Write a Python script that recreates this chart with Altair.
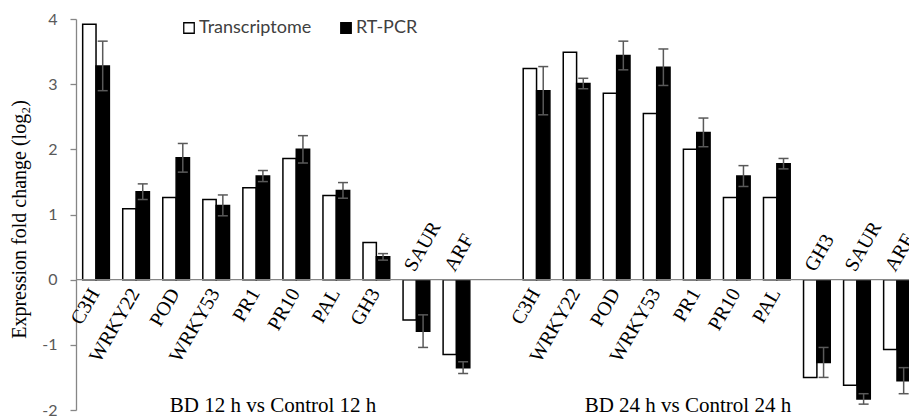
import altair as alt
import pandas as pd

# ---- data ----
genes = ["C3H", "WRKY22", "POD", "WRKY53", "PR1", "PR10", "PAL", "GH3", "SAUR", "ARF"]
groups = ["BD 12 h vs Control 12 h", "BD 24 h vs Control 24 h"]
series = ["Transcriptome", "RT-PCR"]

trans_12h = [3.92, 1.09, 1.26, 1.23, 1.41, 1.86, 1.29, 0.57, -0.62, -1.15]
rtpcr_12h = [3.28, 1.35, 1.87, 1.14, 1.59, 2.00, 1.37, 0.35, -0.79, -1.35]
err_12h = [0.38, 0.12, 0.22, 0.16, 0.085, 0.21, 0.12, 0.05, 0.25, 0.09]

trans_24h = [3.24, 3.49, 2.86, 2.55, 2.00, 1.26, 1.26, -1.50, -1.62, -1.07]
rtpcr_24h = [2.90, 3.01, 3.44, 3.26, 2.26, 1.59, 1.78, -1.27, -1.83, -1.55]
err_24h = [0.37, 0.08, 0.22, 0.28, 0.22, 0.16, 0.08, 0.23, 0.08, 0.20]

y_ticks = [-2, -1, 0, 1, 2, 3, 4]

# ---- tables built from the arrays ----
bar_rows, err_rows, lab_rows = [], [], []
for g, (tr, rt, er) in enumerate([(trans_12h, rtpcr_12h, err_12h),
                                  (trans_24h, rtpcr_24h, err_24h)]):
    for i, gene in enumerate(genes):
        slot = i + 11 * g
        bar_rows.append(dict(gene=gene, series=series[0], value=tr[i],
                             x0=slot + 1 / 6, x1=slot + 0.5))
        bar_rows.append(dict(gene=gene, series=series[1], value=rt[i],
                             x0=slot + 0.5, x1=slot + 5 / 6))
        xc = slot + 2 / 3
        err_rows.append(dict(xc=xc, lo=rt[i] - er[i], hi=rt[i] + er[i],
                             c0=xc - 0.125, c1=xc + 0.125))
        lab_rows.append(dict(gene=gene, xc=slot + 0.5, zero=0,
                             sign=1 if tr[i] >= 0 else -1))

bars_df = pd.DataFrame(bar_rows)
bars_df["base"] = 0
err_df = pd.DataFrame(err_rows)
lab_df = pd.DataFrame(lab_rows)
title_df = pd.DataFrame({"group": groups, "xc": [4.92, 15.28], "y": [-2, -2]})

xscale = alt.Scale(domain=[0, 20.8], nice=False, zero=False)
yscale = alt.Scale(domain=[-2, 4], nice=False, zero=False)

Y_TITLE = "Expression fold change (log₂)"
yaxis = alt.Axis(
    values=y_ticks, grid=False, domainColor="#868686", domainWidth=1.3,
    tickColor="#868686", tickWidth=1.3, tickSize=6, labelPadding=13,
    labelFont="Lato", labelFontSize=16, labelColor="#595959",
    labelExpr="'' + datum.value",
    title=Y_TITLE, titleFont="Liberation Serif",
    titleFontSize=20, titleFontWeight="normal", titleColor="black",
    titleAngle=270, titleX=-51, titleY=200, titleAlign="center",
    titleBaseline="alphabetic",
)


def Y(field):
    return alt.Y(field, scale=yscale, axis=yaxis, title=Y_TITLE)


bars = alt.Chart(bars_df).mark_bar(stroke="black", strokeWidth=1.5, clip=True).encode(
    x=alt.X("x0:Q", scale=xscale, axis=None),
    x2="x1:Q",
    y=Y("value:Q"),
    y2="base:Q",
    fill=alt.Fill("series:N",
                  scale=alt.Scale(domain=series, range=["white", "black"]),
                  legend=alt.Legend(
                      orient="none", legendX=104, legendY=0, direction="horizontal",
                      title=None, symbolType="square", symbolSize=110,
                      symbolStrokeColor="black", symbolStrokeWidth=1.3,
                      labelFont="Lato", labelFontSize=18, labelColor="#404040",
                      labelOffset=1, columnPadding=25, padding=0)),
)

zero_rule = alt.Chart(pd.DataFrame({"y": [0]})).mark_rule(
    color="#868686", strokeWidth=1.3).encode(y=Y("y:Q"))

err_v = alt.Chart(err_df).mark_rule(color="#595959", strokeWidth=1.5, clip=True).encode(
    x=alt.X("xc:Q", scale=xscale, axis=None),
    y=Y("lo:Q"),
    y2="hi:Q")
cap_hi = alt.Chart(err_df).mark_rule(color="#595959", strokeWidth=1.5, clip=True).encode(
    x=alt.X("c0:Q", scale=xscale, axis=None), x2="c1:Q",
    y=Y("hi:Q"))
cap_lo = alt.Chart(err_df).mark_rule(color="#595959", strokeWidth=1.5, clip=True).encode(
    x=alt.X("c0:Q", scale=xscale, axis=None), x2="c1:Q",
    y=Y("lo:Q"))

lab_pos = alt.Chart(lab_df).transform_filter("datum.sign > 0").mark_text(
    align="right", baseline="middle", angle=300, font="Liberation Serif",
    fontSize=20, color="black", xOffset=-1, yOffset=10.5).encode(
    x=alt.X("xc:Q", scale=xscale, axis=None),
    y=Y("zero:Q"),
    text="gene:N")
lab_neg = alt.Chart(lab_df).transform_filter("datum.sign < 0").mark_text(
    align="left", baseline="middle", angle=300, font="Liberation Serif",
    fontSize=20, color="black", xOffset=-7, yOffset=-10).encode(
    x=alt.X("xc:Q", scale=xscale, axis=None),
    y=Y("zero:Q"),
    text="gene:N")

group_titles = alt.Chart(title_df).mark_text(
    align="center", baseline="alphabetic", font="Liberation Serif",
    fontSize=21, color="black", yOffset=1.5).encode(
    x=alt.X("xc:Q", scale=xscale, axis=None),
    y=Y("y:Q"),
    text="group:N")

chart = alt.layer(
    bars, zero_rule, err_v, cap_hi, cap_lo, lab_pos, lab_neg, group_titles
).properties(
    width=833, height=391,
    autosize=alt.AutoSizeParams(type="none"),
    padding={"left": 76, "top": 19, "right": 0, "bottom": 6},
    background="white",
).configure_view(strokeWidth=0)

chart.save("out.html", embed_options={"renderer": "svg", "actions": False})
